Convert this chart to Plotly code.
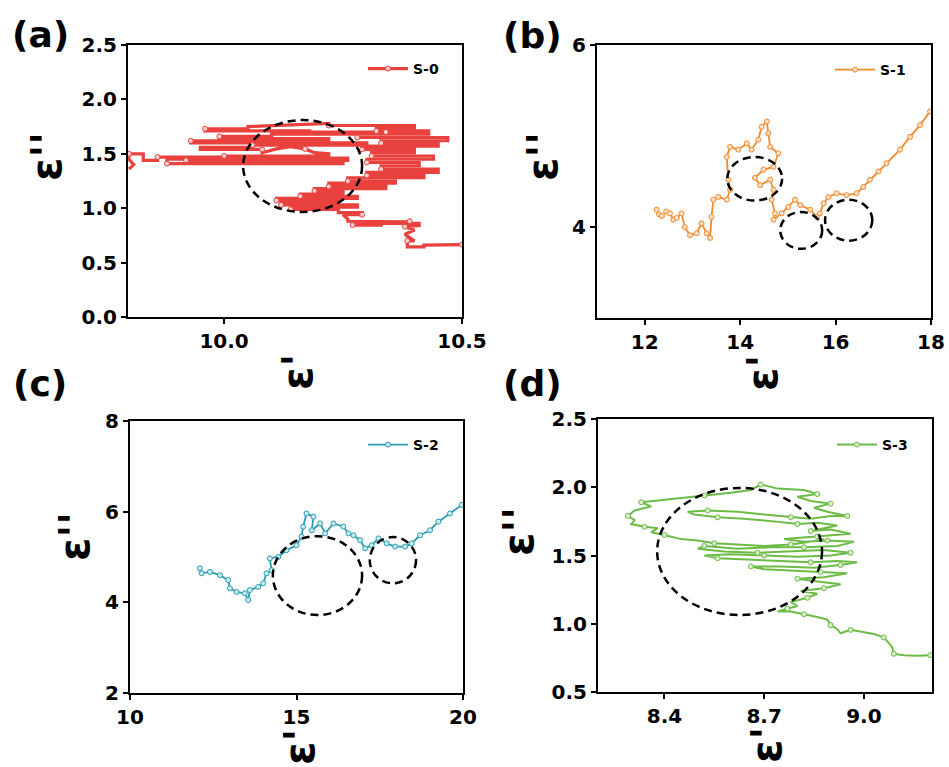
import plotly.graph_objects as go

W, H = 949, 767

# ---------------- data ----------------
s0_x = [10.50, 10.42, 10.42, 10.385, 10.385, 10.40, 10.38, 10.40, 10.38, 10.41, 10.41, 10.27, 10.27, 10.33,
        10.33, 10.39, 10.39, 10.26, 10.26, 10.25, 10.29, 10.29, 10.24, 10.24, 10.14, 10.14, 10.28, 10.28,
        10.12, 10.12, 10.24, 10.24, 10.11, 10.11, 10.28, 10.28, 10.16, 10.16, 10.25, 10.25, 10.19, 10.19,
        10.34, 10.34, 10.22, 10.22, 10.36, 10.36, 10.26, 10.26, 10.42, 10.42, 10.30, 10.30, 10.45, 10.45,
        10.33, 10.33, 10.41, 10.41, 10.30, 10.30, 10.44, 10.44, 10.31, 10.31, 10.40, 10.40, 10.29, 10.29,
        10.45, 10.45, 10.33, 10.33, 10.47, 10.47, 10.28, 10.28, 10.43, 10.43, 10.32, 10.32, 10.40, 10.40,
        10.22, 10.22, 10.05, 10.05, 9.96, 9.96, 10.18, 10.18, 10.34, 10.34, 10.10, 10.10, 9.99, 9.99,
        10.22, 10.22, 9.93, 9.93, 10.30, 10.30, 10.06, 10.06, 9.95, 9.95, 10.08, 10.08, 10.11, 10.14,
        10.17, 10.19, 10.22, 10.22, 10.00, 10.00, 10.26, 10.26, 9.92, 9.92, 10.25, 10.25, 9.88, 9.88,
        10.12, 10.12, 9.86, 9.86, 9.83, 9.83, 9.80, 9.80, 9.81, 9.80]
s0_y = [0.665, 0.66, 0.645, 0.645, 0.70, 0.70, 0.76, 0.80, 0.83, 0.84, 0.86, 0.86, 0.845, 0.845,
        0.875, 0.875, 0.88, 0.88, 0.90, 0.94, 0.94, 0.96, 0.96, 0.99, 0.99, 1.01, 1.01, 1.03,
        1.03, 1.05, 1.05, 1.07, 1.07, 1.09, 1.09, 1.11, 1.11, 1.13, 1.13, 1.16, 1.16, 1.18,
        1.18, 1.20, 1.20, 1.23, 1.23, 1.25, 1.25, 1.28, 1.28, 1.30, 1.30, 1.33, 1.33, 1.36,
        1.36, 1.39, 1.39, 1.42, 1.42, 1.45, 1.45, 1.48, 1.48, 1.51, 1.51, 1.54, 1.54, 1.57,
        1.57, 1.60, 1.60, 1.62, 1.62, 1.65, 1.65, 1.68, 1.68, 1.71, 1.71, 1.74, 1.74, 1.76,
        1.76, 1.78, 1.75, 1.73, 1.73, 1.71, 1.71, 1.70, 1.70, 1.68, 1.68, 1.66, 1.66, 1.64,
        1.64, 1.62, 1.62, 1.60, 1.60, 1.58, 1.58, 1.56, 1.56, 1.54, 1.54, 1.51, 1.545, 1.565,
        1.545, 1.51, 1.50, 1.48, 1.48, 1.46, 1.46, 1.44, 1.44, 1.42, 1.42, 1.41, 1.41, 1.45,
        1.45, 1.47, 1.47, 1.44, 1.44, 1.50, 1.50, 1.45, 1.40, 1.36]

s1_x = [12.25, 12.30, 12.36, 12.45, 12.53, 12.60, 12.67, 12.77, 12.84, 12.95, 13.09, 13.19, 13.30, 13.37,
        13.40, 13.44, 13.54, 13.72, 13.79, 13.75, 13.72, 13.79, 13.96, 14.14, 14.24, 14.38, 14.45, 14.56,
        14.59, 14.63, 14.80, 14.70, 14.49, 14.31, 14.42, 14.63, 14.70, 14.66, 14.73, 14.70, 14.87, 15.01,
        15.15, 15.26, 15.47, 15.61, 15.67, 15.75, 15.85, 16.02, 16.23, 16.44, 16.58, 16.72, 16.90, 17.07,
        17.35, 17.56, 17.77, 17.98]
s1_y = [4.19, 4.14, 4.12, 4.17, 4.15, 4.08, 4.10, 4.15, 4.00, 3.91, 3.93, 4.04, 3.93, 3.88,
        4.11, 4.30, 4.33, 4.30, 4.41, 4.52, 4.77, 4.88, 4.85, 4.92, 4.85, 4.96, 5.10, 5.16,
        5.03, 4.88, 4.81, 4.66, 4.63, 4.54, 4.46, 4.52, 4.41, 4.30, 4.15, 4.08, 4.15, 4.22,
        4.30, 4.24, 4.19, 4.11, 4.15, 4.26, 4.33, 4.37, 4.35, 4.37, 4.44, 4.52, 4.61, 4.70,
        4.85, 4.99, 5.12, 5.27]

s2_x = [12.10, 12.15, 12.40, 12.70, 12.95, 13.00, 13.20, 13.45, 13.55, 13.60, 13.85, 14.00, 14.10, 14.25,
        14.20, 14.45, 14.70, 15.00, 15.15, 15.20, 15.30, 15.51, 15.46, 15.71, 15.86, 16.11, 16.41, 16.56,
        16.71, 16.91, 17.06, 17.26, 17.46, 17.71, 17.96, 18.26, 18.46, 18.71, 19.01, 19.26, 19.61, 19.96]
s2_y = [4.75, 4.64, 4.67, 4.60, 4.49, 4.31, 4.23, 4.20, 4.05, 4.27, 4.34, 4.42, 4.64, 4.71,
        4.97, 5.00, 5.15, 5.26, 5.45, 5.67, 5.96, 5.89, 5.59, 5.74, 5.52, 5.74, 5.67, 5.52,
        5.48, 5.37, 5.19, 5.26, 5.41, 5.30, 5.23, 5.23, 5.30, 5.48, 5.59, 5.78, 5.96, 6.15]

s3_x = [9.20, 9.16, 9.12, 9.09, 9.085, 9.07, 9.06, 9.03, 9.00, 8.96, 8.93, 8.92, 8.90, 8.89, 8.86, 8.82,
        8.78, 8.74, 8.77, 8.80, 8.78, 8.83, 8.86, 8.81, 8.88, 8.93, 8.86, 8.80, 8.88, 8.95, 8.87, 8.78,
        8.70, 8.66, 8.75, 8.85, 8.93, 8.98, 8.92, 8.84, 8.75, 8.65, 8.56, 8.52, 8.60, 8.70, 8.80, 8.90,
        8.96, 8.88, 8.78, 8.68, 8.58, 8.50, 8.52, 8.62, 8.72, 8.82, 8.92, 8.97, 8.89, 8.82, 8.76, 8.86,
        8.96, 8.90, 8.84, 8.92, 8.86, 8.80, 8.73, 8.64, 8.56, 8.49, 8.47, 8.53, 8.62, 8.70, 8.78, 8.84,
        8.90, 8.95, 8.89, 8.85, 8.90, 8.84, 8.80, 8.86, 8.82, 8.74, 8.69, 8.66, 8.60, 8.52, 8.45, 8.37,
        8.33, 8.36, 8.31, 8.29, 8.31, 8.30, 8.34, 8.38, 8.36, 8.40, 8.45, 8.50, 8.55, 8.62, 8.70, 8.78,
        8.84, 8.88]
s3_y = [0.77, 0.765, 0.77, 0.78, 0.83, 0.87, 0.90, 0.925, 0.94, 0.955, 0.93, 0.96, 0.99, 1.03, 1.05, 1.07,
        1.09, 1.09, 1.11, 1.13, 1.16, 1.19, 1.22, 1.24, 1.26, 1.29, 1.31, 1.33, 1.34, 1.37, 1.38, 1.39,
        1.40, 1.42, 1.42, 1.41, 1.43, 1.45, 1.46, 1.45, 1.46, 1.47, 1.48, 1.50, 1.51, 1.50, 1.49, 1.50,
        1.52, 1.54, 1.53, 1.52, 1.53, 1.55, 1.57, 1.55, 1.56, 1.56, 1.57, 1.60, 1.61, 1.60, 1.62, 1.64,
        1.66, 1.69, 1.68, 1.72, 1.74, 1.73, 1.75, 1.77, 1.78, 1.80, 1.82, 1.83, 1.82, 1.80, 1.78, 1.77,
        1.79, 1.79, 1.82, 1.85, 1.88, 1.90, 1.93, 1.95, 1.98, 1.99, 2.02, 1.98, 1.96, 1.94, 1.92, 1.90,
        1.89, 1.86, 1.83, 1.79, 1.76, 1.73, 1.71, 1.70, 1.67, 1.65, 1.62, 1.61, 1.59, 1.58, 1.57, 1.58,
        1.60, 1.62]

names = ["S-0", "S-1", "S-2", "S-3"]
colors = ["#e8413e", "#f08a2e", "#2b9db3", "#6cbb47"]
tints = ["#fbd0cf", "#fde0c4", "#c9ecf2", "#d9f0cc"]
labels = ["(a)", "(b)", "(c)", "(d)"]

# (x0, x1, y0, y1) of dashed circles in data units, per panel
circles = [
    [(10.04, 10.29, 0.965, 1.81)],
    [(13.73, 14.88, 4.29, 4.77), (14.84, 15.72, 3.76, 4.165), (15.78, 16.77, 3.85, 4.30)],
    [(14.29, 16.97, 3.72, 5.46), (17.20, 18.59, 4.42, 5.44)],
    [(8.378, 8.874, 1.064, 1.995)],
]

x_ranges = [[9.798, 10.5], [11, 18], [10, 20], [8.2, 9.205]]
y_ranges = [[0, 2.5], [3, 6], [2, 8], [0.5, 2.5]]
x_ticks = [[10.0, 10.5], [12, 14, 16, 18], [10, 15, 20], [8.4, 8.7, 9.0]]
x_ticktext = [["10.0", "10.5"], ["12", "14", "16", "18"], ["10", "15", "20"], ["8.4", "8.7", "9.0"]]
y_ticks = [[0, 0.5, 1.0, 1.5, 2.0, 2.5], [4, 6], [2, 4, 6, 8], [0.5, 1.0, 1.5, 2.0, 2.5]]
y_ticktext = [["0.0", "0.5", "1.0", "1.5", "2.0", "2.5"], ["4", "6"], ["2", "4", "6", "8"],
              ["0.5", "1.0", "1.5", "2.0", "2.5"]]

series_x = [s0_x, s1_x, s2_x, s3_x]
series_y = [s0_y, s1_y, s2_y, s3_y]

# ---------------- layout geometry (pixels) ----------------
boxes = [(128, 462, 45, 317), (597, 931, 45, 318), (130, 463, 421, 693), (598, 932, 419, 692)]
label_pos = [(40, 35), (532, 36), (40, 383), (532, 383)]
ytitle_pos = [(46, 157), (542, 157), (74, 537), (518, 532)]
xtitle_pos = [(297, 372), (763, 373), (299, 747), (766, 745)]
legend_pos = [(363, 69), (830, 70), (363, 445), (832, 445)]
line_widths = [3.2, 1.8, 1.8, 2]
max_markers = [45, 0, 0, 45]

FONT = "DejaVu Sans"
fig = go.Figure()
layout = dict(width=W, height=H, margin=dict(l=0, r=0, t=0, b=0, autoexpand=False),
              paper_bgcolor="white", plot_bgcolor="white", showlegend=True)
annotations = []
shapes = []

for i in range(4):
    xa = "x" if i == 0 else f"x{i+1}"
    ya = "y" if i == 0 else f"y{i+1}"
    leg = "legend" if i == 0 else f"legend{i+1}"
    fig.add_trace(go.Scatter(
        x=series_x[i], y=series_y[i], xaxis=xa, yaxis=ya, name=names[i], legend=leg,
        mode="lines+markers",
        line=dict(color=colors[i], width=line_widths[i]),
        marker=dict(symbol="circle", size=5, color=tints[i], line=dict(color=colors[i], width=1),
                    maxdisplayed=max_markers[i]),
    ))
    l, r, t, b = boxes[i]
    axis_common = dict(showline=True, linewidth=2, linecolor="black", mirror=True,
                       ticks="outside", ticklen=5, tickwidth=2, tickcolor="black",
                       showgrid=False, zeroline=False, automargin=False,
                       tickfont=dict(family=FONT, size=20, color="black", weight="bold"))
    layout["xaxis" if i == 0 else f"xaxis{i+1}"] = dict(
        axis_common, domain=[l / W, r / W], anchor=ya, range=x_ranges[i],
        tickmode="array", tickvals=x_ticks[i], ticktext=x_ticktext[i])
    layout["yaxis" if i == 0 else f"yaxis{i+1}"] = dict(
        axis_common, domain=[1 - b / H, 1 - t / H], anchor=xa, range=y_ranges[i],
        tickmode="array", tickvals=y_ticks[i], ticktext=y_ticktext[i])
    lx, ly = legend_pos[i]
    layout[leg] = dict(x=lx / W, y=1 - ly / H, xanchor="left", yanchor="middle",
                       bgcolor="rgba(0,0,0,0)", borderwidth=0, itemwidth=40,
                       font=dict(family=FONT, size=14, color="black", weight="bold"))
    px, py = label_pos[i]
    annotations.append(dict(text=labels[i], x=px / W, y=1 - py / H, xref="paper", yref="paper",
                            showarrow=False, xanchor="center", yanchor="middle",
                            font=dict(family=FONT, size=36, color="black", weight="bold")))
    px, py = ytitle_pos[i]
    annotations.append(dict(text="ε''", x=px / W, y=1 - py / H, xref="paper", yref="paper",
                            showarrow=False, textangle=-90, xanchor="center", yanchor="middle",
                            font=dict(family=FONT, size=42, color="black", weight="bold")))
    px, py = xtitle_pos[i]
    annotations.append(dict(text="ε'", x=px / W, y=1 - py / H, xref="paper", yref="paper",
                            showarrow=False, textangle=-90, xanchor="center", yanchor="middle",
                            font=dict(family=FONT, size=42, color="black", weight="bold")))
    for (x0, x1, y0, y1) in circles[i]:
        shapes.append(dict(type="circle", xref=xa, yref=ya, x0=x0, x1=x1, y0=y0, y1=y1,
                           line=dict(color="black", width=2.5, dash="8px,5px")))

layout["annotations"] = annotations
layout["shapes"] = shapes
fig.update_layout(**layout)
fig.write_html("out.html", config={"displayModeBar": False},
               post_script="document.body.style.margin='0';")
